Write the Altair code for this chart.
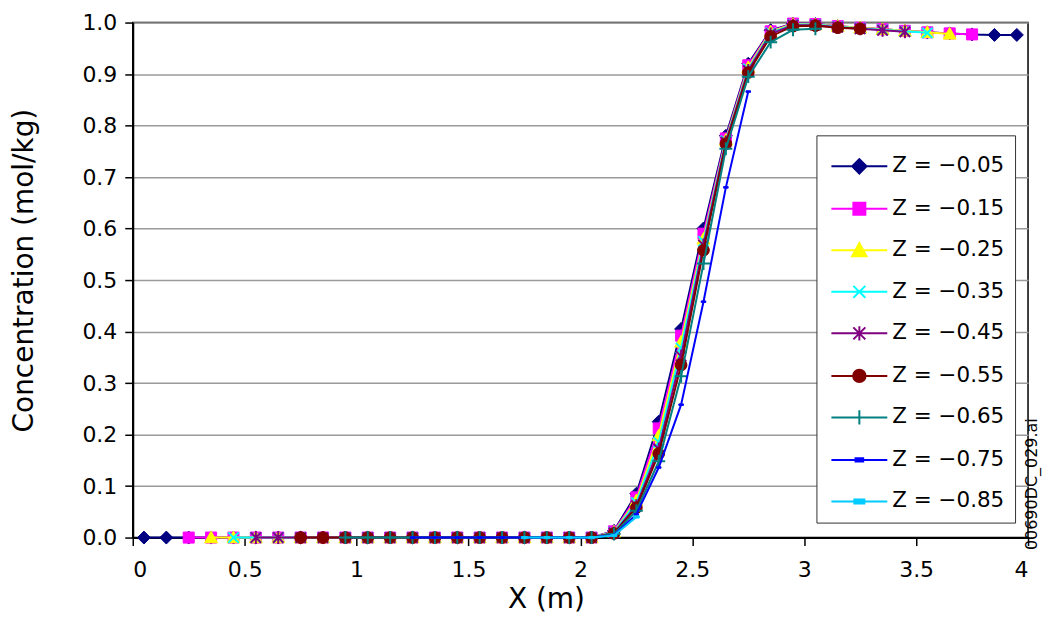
import altair as alt
import pandas as pd

FONT = "DejaVu Sans"

# x positions (m)
X = [0.05, 0.15, 0.25, 0.35, 0.45, 0.55, 0.65, 0.75, 0.85, 0.95,
     1.05, 1.15, 1.25, 1.35, 1.45, 1.55, 1.65, 1.75, 1.85, 1.95,
     2.05, 2.15, 2.25, 2.35, 2.45, 2.55, 2.65, 2.75, 2.85, 2.95,
     3.05, 3.15, 3.25, 3.35, 3.45, 3.55, 3.65, 3.75, 3.85, 3.95]

SERIES = ["Z = −0.05", "Z = −0.15", "Z = −0.25", "Z = −0.35", "Z = −0.45",
          "Z = −0.55", "Z = −0.65", "Z = −0.75", "Z = −0.85"]
COLORS = ["#000080", "#FF00FF", "#FFFF00", "#00FFFF", "#800080",
          "#800000", "#008080", "#0000FF", "#00CCFF"]

Z005 = [0, 0, 0, 0, 0, 0, 0, 0, 0, 0,
        0, 0, 0, 0, 0, 0, 0, 0, 0, 0,
        0, 0.013, 0.085, 0.225, 0.405, 0.600, 0.780, 0.920, 0.985, 0.998,
        0.997, 0.993, 0.990, 0.987, 0.984, 0.981, 0.979, 0.977, 0.976, 0.976]
Z015 = [None, None, 0, 0, 0, 0, 0, 0, 0, 0,
        0, 0, 0, 0, 0, 0, 0, 0, 0, 0,
        0, 0.012, 0.078, 0.212, 0.392, 0.590, 0.775, 0.917, 0.983, 0.998,
        0.997, 0.993, 0.990, 0.987, 0.984, 0.981, 0.979, 0.977, None, None]
Z025 = [None, None, None, 0, 0, 0, 0, 0, 0, 0,
        0, 0, 0, 0, 0, 0, 0, 0, 0, 0,
        0, 0.011, 0.072, 0.198, 0.380, 0.580, 0.772, 0.913, 0.982, 0.997,
        0.996, 0.993, 0.990, 0.987, 0.984, 0.981, 0.978, None, None, None]
Z035 = [None, None, None, None, 0, 0, 0, 0, 0, 0,
        0, 0, 0, 0, 0, 0, 0, 0, 0, 0,
        0, 0.010, 0.068, 0.185, 0.368, 0.575, 0.770, 0.910, 0.980, 0.996,
        0.996, 0.992, 0.989, 0.986, 0.983, 0.980, None, None, None, None]
Z045 = [None, None, None, None, None, 0, 0, 0, 0, 0,
        0, 0, 0, 0, 0, 0, 0, 0, 0, 0,
        0, 0.009, 0.062, 0.172, 0.352, 0.568, 0.768, 0.907, 0.978, 0.995,
        0.995, 0.991, 0.988, 0.985, 0.982, None, None, None, None, None]
Z055 = [None, None, None, None, None, None, None, 0, 0, 0,
        0, 0, 0, 0, 0, 0, 0, 0, 0, 0,
        0, 0.008, 0.058, 0.163, 0.335, 0.558, 0.765, 0.903, 0.973, 0.993,
        0.994, 0.990, 0.988, None, None, None, None, None, None, None]
Z065 = [None, None, None, None, None, None, None, None, None, 0,
        0, 0, 0, 0, 0, 0, 0, 0, 0, 0,
        0, 0.007, 0.052, 0.148, 0.313, 0.532, 0.755, 0.895, 0.962, 0.986,
        0.988, None, None, None, None, None, None, None, None, None]
Z075 = [None, None, None, None, None, None, None, None, None, None,
        None, None, 0, 0, 0, 0, 0, 0, 0, 0,
        0, 0.005, 0.045, 0.136, 0.258, 0.458, 0.680, 0.866, None, None,
        None, None, None, None, None, None, None, None, None, None]
Z085 = [None, None, None, None, None, None, None, None, None, None,
        None, None, None, None, None, None, None, 0, 0, 0,
        0, 0.004, 0.040, None, None, None, None, None, None, None,
        None, None, None, None, None, None, None, None, None, None]
VALUES = [Z005, Z015, Z025, Z035, Z045, Z055, Z065, Z075, Z085]

XTICKS = [0, 0.5, 1, 1.5, 2, 2.5, 3, 3.5, 4]
YTICKS = [0.0, 0.1, 0.2, 0.3, 0.4, 0.5, 0.6, 0.7, 0.8, 0.9, 1.0]

rows = []
for name, vals in zip(SERIES, VALUES):
    for xv, v in zip(X, vals):
        if v is not None:
            rows.append({"x": xv, "c": v, "series": name})
df = pd.DataFrame(rows)

# marker styles (normalised -1..1 paths)
MARKERS = [
    "M0,-1L1,0L0,1L-1,0Z",
    "M-0.85,-0.85H0.85V0.85H-0.85Z",
    "M0,-1L1,0.8H-1Z",
    "M-0.8,-0.8L0.8,0.8M-0.8,0.8L0.8,-0.8",
    "M-0.8,-0.8L0.8,0.8M-0.8,0.8L0.8,-0.8M0,-1V1",
    "M-0.9,0A0.9,0.9 0 1,0 0.9,0A0.9,0.9 0 1,0 -0.9,0Z",
    "M-1,0H1M0,-1V1",
    "M-0.35,-0.12H0.35V0.12H-0.35Z",
    "M-0.45,-0.17H0.45V0.17H-0.45Z",
]
MSTROKE = [1, 1, 1, 2, 2, 1, 2, 1, 1]
LEG = [
    "M-1.4,0H1.4M0,-0.36L0.36,0L0,0.36L-0.36,0Z",
    "M-1.4,0H1.4M-0.3,-0.3H0.3V0.3H-0.3Z",
    "M-1.4,0H1.4M0,-0.36L0.36,0.3H-0.36Z",
    "M-1.4,0H1.4M-0.3,-0.3L0.3,0.3M-0.3,0.3L0.3,-0.3",
    "M-1.4,0H1.4M-0.3,-0.3L0.3,0.3M-0.3,0.3L0.3,-0.3M0,-0.36V0.36",
    "M-1.4,0H1.4M-0.31,0A0.31,0.31 0 1,0 0.31,0A0.31,0.31 0 1,0 -0.31,0Z",
    "M-1.4,0H1.4M0,-0.36V0.36",
    "M-1.4,0H1.4M-0.19,-0.08H0.19V0.08H-0.19Z",
    "M-1.4,0H1.4M-0.25,-0.1H0.25V0.1H-0.25Z",
]

legend = alt.Legend(
    title=None, orient="none", legendX=685, legendY=113,
    fillColor="white", strokeColor="#333333", padding=10,
    symbolSize=1600, symbolStrokeWidth=2, symbolOffset=12, symbolOpacity=1,
    labelFont=FONT, labelFontSize=21.5, labelColor="black", labelOffset=12,
    rowPadding=9.6,
)

XS = alt.Scale(domain=[0, 4], nice=False, zero=False)
YS = alt.Scale(domain=[0, 1], nice=False)
CS = alt.Scale(domain=SERIES, range=COLORS)

x_axis = alt.Axis(values=XTICKS, format="~g", grid=False, tickSize=8, tickWidth=1.5,
                  tickColor="black", domainColor="black", domainWidth=2,
                  labelPadding=14, labelFontSize=22, title="X (m)", titleFontSize=28,
                  titleFontWeight="normal", titleX=414, titleY=70,
                  titleBaseline="alphabetic", titleAlign="center")
y_axis = alt.Axis(values=YTICKS, format=".1f", grid=True, gridColor="#9a9a9a", gridWidth=1.5,
                  tickSize=8, tickWidth=1.5, tickColor="black", domainColor="black",
                  domainWidth=2, labelPadding=8, labelFontSize=22,
                  title="Concentration (mol/kg)", titleFontSize=28, titleFontWeight="normal",
                  titleAngle=270, titleX=-108, titleY=248, titleBaseline="middle",
                  titleAlign="center")

XENC = alt.X("x:Q", scale=XS, axis=x_axis)

base = alt.Chart(df)
layers = []
for i, (name, col) in enumerate(zip(SERIES, COLORS)):
    sub = base.transform_filter(alt.datum.series == name)
    first = i == 0
    line = sub.mark_line(strokeWidth=2, color=col).encode(
        x=XENC,
        y=alt.Y("c:Q", scale=YS, axis=y_axis if first else None),
    )
    pts = sub.mark_point(shape=MARKERS[i], size=169, filled=True, fill=col, stroke=col,
                         strokeWidth=MSTROKE[i], opacity=1).encode(
        x=XENC,
        y=alt.Y("c:Q", scale=YS, axis=None),
    )
    layers += [line, pts]

# invisible layer carrying the legend (line + marker symbols)
leg_layer = base.mark_point(filled=True, opacity=0).encode(
    x=XENC,
    y=alt.Y("c:Q", scale=YS, axis=None),
    fill=alt.Fill("series:N", scale=CS, legend=legend),
    stroke=alt.Stroke("series:N", scale=CS, legend=legend),
    shape=alt.Shape("series:N", scale=alt.Scale(domain=SERIES, range=LEG), legend=legend),
)

ann = base.mark_point(opacity=0).encode(
    x=XENC,
    y=alt.Y("c:Q", scale=YS, axis=alt.Axis(
        orient="right", title="00690DC_029.ai", labels=False, ticks=False,
        domain=False, grid=False, titleFontSize=16, titleFontWeight="normal",
        titleAngle=270, titleX=3, titleY=462, titleBaseline="middle",
        titleAlign="center")),
)

chart = (
    alt.layer(*layers, leg_layer, ann)
    .resolve_axis(y="independent")
    .properties(width=897, height=516, autosize="none",
                padding={"left": 125, "top": 14, "right": 15, "bottom": 80})
    .configure_view(stroke="black", strokeWidth=1.5)
    .configure_axis(labelFont=FONT, titleFont=FONT, labelColor="black", titleColor="black")
)

chart.save("out.html", embed_options={"renderer": "svg", "actions": False})
